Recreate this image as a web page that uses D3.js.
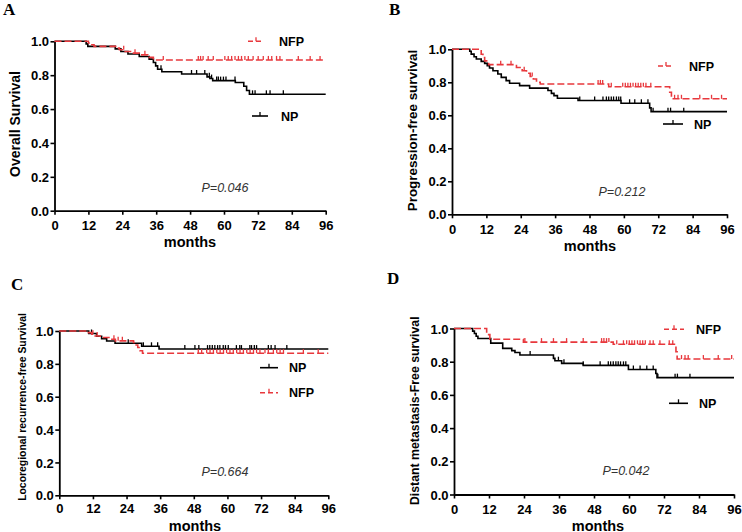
<!DOCTYPE html>
<html><head><meta charset="utf-8">
<script src="https://cdn.jsdelivr.net/npm/d3@7"></script>
<style>body{margin:0;background:#fff}svg{display:block}</style>
</head><body>
<script>
// ---------- DATA ----------
const xTicks = [0, 12, 24, 36, 48, 60, 72, 84, 96];
const yTicks = [0, 0.2, 0.4, 0.6, 0.8, 1.0];
const seriesNames = ["NP", "NFP"];

// Panel A - Overall Survival
const aNpTime = [0, 11.2, 11.8, 21.5, 23.5, 26, 30, 33.5, 35, 35.8, 36.5, 38, 45, 54, 55, 56, 64, 67, 68, 69];
const aNpSurv = [1, 0.985, 0.97, 0.955, 0.94, 0.925, 0.91, 0.895, 0.875, 0.855, 0.835, 0.82, 0.807, 0.79, 0.78, 0.768, 0.757, 0.735, 0.71, 0.687];
const aNpCens = [37.7, 48.5, 50.3, 53.2, 54.8, 55.6, 57.4, 58, 58.8, 59.8, 60.7, 63.9, 70.1, 71, 75, 76.3, 81];
const aNfpTime = [0, 12, 12.8, 14, 22, 23, 25, 27.5, 30, 33, 35];
const aNfpSurv = [1, 0.99, 0.98, 0.97, 0.96, 0.95, 0.94, 0.93, 0.92, 0.905, 0.89];
const aNfpCens = [24.5, 28.5, 32, 38.5, 50.9, 51.7, 52.6, 54.4, 56.2, 60.3, 61.5, 62.7, 63.9, 65.1, 66.2, 67.4, 68.6, 70.3, 72.1, 73.9, 75.7, 76.9, 78.6, 79.8, 86.3, 90.5, 94];

// Panel B - Progression-free survival
const bNpTime = [0, 6.2, 6.7, 7.7, 8.5, 10.2, 11.4, 12.3, 13.1, 14.3, 16, 17.2, 18.9, 20.1, 23.6, 27.1, 33.5, 34.7, 35.6, 36.8, 44, 59, 69, 69.5];
const bNpSurv = [1, 0.988, 0.971, 0.955, 0.941, 0.927, 0.915, 0.9, 0.887, 0.87, 0.85, 0.83, 0.81, 0.794, 0.78, 0.765, 0.75, 0.733, 0.719, 0.703, 0.69, 0.673, 0.645, 0.622];
const bNpCens = [44.6, 49.8, 52.7, 53.9, 54.7, 55.6, 56.4, 57.4, 58.2, 58.9, 62, 63.8, 66.1, 68.4, 70.2, 75.4, 76.3, 80.9];
const bNfpTime = [0, 10.2, 10.8, 11.4, 12.8, 22.5, 24.5, 26, 27.3, 28.4, 29.5, 30.8, 54.7, 76, 76.6];
const bNfpSurv = [1, 0.97, 0.95, 0.93, 0.907, 0.89, 0.87, 0.855, 0.835, 0.82, 0.80, 0.79, 0.773, 0.74, 0.70];
const bNfpCens = [17, 20.6, 25.2, 28, 51, 51.8, 52.6, 55.6, 59.6, 60.5, 61.4, 62.3, 63.2, 64.1, 65, 65.9, 66.8, 67.7, 69.4, 77.7, 78.9, 80.1, 86.5, 90.6, 94.1];

// Panel C - Locoregional recurrence-free Survival
const cNpTime = [0, 10.5, 13.3, 15.1, 16.9, 19.9, 29.4, 35.6];
const cNpSurv = [1, 0.985, 0.968, 0.953, 0.939, 0.925, 0.907, 0.89];
const cNpCens = [11.5, 24.6, 30, 32.9, 35.1, 44.8, 48.4, 49.8, 52.9, 53.7, 54.6, 55.5, 56.5, 57.3, 58.5, 59.3, 60.3, 63.2, 64.4, 65, 68, 68.6, 69.6, 70.4, 74.6, 75.6, 77, 81.2];
const cNfpTime = [0, 10.4, 11.6, 12.8, 14.6, 18, 20, 26.5, 27.1, 28, 28.8, 29.7];
const cNfpSurv = [1, 0.99, 0.98, 0.97, 0.96, 0.95, 0.94, 0.93, 0.915, 0.9, 0.88, 0.865];
const cNfpCens = [12, 13.5, 19.5, 21, 22.5, 49.6, 50.8, 52.6, 53.8, 55, 56.2, 57.4, 58.6, 59.7, 60.9, 62.1, 63.3, 64.5, 65.7, 66.9, 68.1, 69.3, 70.4, 71.6, 73.4, 74.6, 76.4, 77.6, 78.8, 80, 87.1, 92.4];

// Panel D - Distant metastasis-Free survival
const dNpTime = [0, 6.4, 7.0, 7.6, 8.2, 12.6, 16.7, 19.8, 20.9, 22.6, 34.1, 34.6, 36.9, 44.3, 59.8, 69.2, 69.6];
const dNpSurv = [1, 0.984, 0.97, 0.953, 0.94, 0.912, 0.88, 0.867, 0.855, 0.84, 0.82, 0.806, 0.79, 0.778, 0.753, 0.729, 0.704];
const dNpCens = [26.1, 35.8, 37.7, 44.3, 50.1, 52.9, 53.7, 54.6, 55.5, 56.3, 57.1, 58.1, 58.9, 61.5, 63.8, 66.1, 68.3, 69.9, 75.8, 76.6, 80.9];
const dNfpTime = [0, 11.2, 12.3, 23.8, 54.6, 76.1, 76.5];
const dNfpSurv = [1, 0.963, 0.935, 0.918, 0.905, 0.86, 0.816];
const dNfpCens = [24.3, 30, 34.1, 38.6, 44.3, 50.6, 51.4, 52.3, 53.1, 55.8, 58.1, 59.2, 60.1, 61, 61.9, 62.9, 63.8, 64.7, 65.6, 67.2, 68.3, 70.6, 73.8, 75, 78, 79.2, 80.3, 85.5, 90.6, 95.2];

const panelLetters = ["A", "B", "C", "D"];
const yTitles = ["Overall Survival", "Progression-free survival", "Locoregional recurrence-free Survival", "Distant metastasis-Free survival"];
const pValues = ["P=0.046", "P=0.212", "P=0.664", "P=0.042"];
const xTitle = "months";

// ---------- LAYOUT ----------
const RED = "#e8383d";
const panels = [
  { x0: 54.5, x1: 325.7, yT: 41.3, yB: 210.7, letter: [3, 15], ytl: [15, 124], ytSize: 14, p: [225, 192], xt: [190, 247], xtlY: 230,
    np: [aNpTime, aNpSurv, aNpCens], nfp: [aNfpTime, aNfpSurv, aNfpCens],
    legNFP: [248, 264, 41.3, 279, 45.5], legNP: [252, 268, 116, 281, 120.5] },
  { x0: 452, x1: 727, yT: 49.3, yB: 214.3, letter: [389, 15], ytl: [412, 130.5], ytSize: 13.4, p: [622, 196], xt: [590, 251], xtlY: 234,
    np: [bNpTime, bNpSurv, bNpCens], nfp: [bNfpTime, bNfpSurv, bNfpCens],
    legNFP: [658, 674, 66, 689, 70.5], legNP: [663, 683, 124, 694, 128.5] },
  { x0: 59.3, x1: 328.3, yT: 331, yB: 495.3, letter: [11, 290], ytl: [22.5, 407], ytSize: 10.4, p: [225, 476], xt: [195, 530.5], xtlY: 513.5,
    np: [cNpTime, cNpSurv, cNpCens], nfp: [cNfpTime, cNfpSurv, cNfpCens],
    legNFP: [260, 278, 392.7, 289, 397], legNP: [260, 278, 367.7, 289, 372] },
  { x0: 454, x1: 734, yT: 328.5, yB: 494.5, letter: [387, 284], ytl: [415, 410.7], ytSize: 12.3, p: [626, 475], xt: [598, 530.5], xtlY: 513.5,
    np: [dNpTime, dNpSurv, dNpCens], nfp: [dNfpTime, dNfpSurv, dNfpCens],
    legNFP: [664, 684, 329.3, 696, 333.5], legNP: [669, 688, 403.3, 699, 407.5] }
];

const FONT = "'Liberation Sans', Arial, sans-serif";
const svg = d3.select("body").append("svg").attr("width", 742).attr("height", 532)
  .style("font-family", FONT);
svg.append("rect").attr("width", 742).attr("height", 532).attr("fill", "#fff");

function survAt(times, surv, t) {
  let s = surv[0];
  for (let i = 0; i < times.length; i++) if (times[i] <= t) s = surv[i];
  return s;
}

panels.forEach((P, idx) => {
  const g = svg.append("g");
  const x = d3.scaleLinear().domain([0, 96]).range([P.x0, P.x1]);
  const y = d3.scaleLinear().domain([0, 1]).range([P.yB, P.yT]);

  // panel letter
  g.append("text").attr("x", P.letter[0]).attr("y", P.letter[1])
    .attr("font-family", "'Liberation Serif', 'Times New Roman', serif")
    .attr("font-weight", "bold").attr("font-size", 17).text(panelLetters[idx]);

  // axes
  const xAxis = d3.axisBottom(x).tickValues(xTicks).tickFormat(d3.format("d")).tickSize(4).tickSizeOuter(0).tickPadding(2);
  const yAxis = d3.axisLeft(y).tickValues(yTicks).tickFormat(d3.format(".1f")).tickSize(4).tickSizeOuter(0).tickPadding(1.5);
  const gx = g.append("g").attr("transform", `translate(0,${P.yB})`).call(xAxis);
  const gy = g.append("g").attr("transform", `translate(${P.x0},0)`).call(yAxis);
  [gx, gy].forEach(a => {
    a.select(".domain").attr("stroke", "#000").attr("stroke-width", 1.8);
    a.selectAll(".tick line").attr("stroke", "#000").attr("stroke-width", 1.6);
    a.selectAll(".tick text").attr("fill", "#000").attr("font-size", 13).attr("font-weight", "bold")
      .attr("font-family", FONT);
  });
  gx.selectAll(".tick text").attr("dy", null).attr("y", P.xtlY - P.yB);
  gy.selectAll(".tick text").attr("dy", "0.36em");

  // axis titles
  g.append("text").attr("x", P.xt[0]).attr("y", P.xt[1]).attr("text-anchor", "middle")
    .attr("font-weight", "bold").attr("font-size", 14.5).text(xTitle);
  g.append("text").attr("transform", `translate(${P.ytl[0]},${P.ytl[1]}) rotate(-90)`)
    .attr("text-anchor", "middle").attr("dominant-baseline", "central")
    .attr("font-weight", "bold").attr("font-size", P.ytSize).text(yTitles[idx]);

  // p value
  g.append("text").attr("x", P.p[0]).attr("y", P.p[1]).attr("text-anchor", "middle")
    .attr("font-style", "italic").attr("font-size", 12.5).attr("fill", "#333").text(pValues[idx]);

  const line = d3.line().x(d => x(d[0])).y(d => y(d[1])).curve(d3.curveStepAfter);

  function drawSeries(data, color, dash) {
    const [times, surv, cens] = data;
    const pts = times.map((t, i) => [t, surv[i]]);
    pts.push([96, surv[surv.length - 1]]);
    g.append("path").datum(pts).attr("d", line).attr("fill", "none")
      .attr("stroke", color).attr("stroke-width", 1.6).attr("stroke-dasharray", dash);
    g.selectAll(null).data(cens).enter().append("line")
      .attr("x1", d => x(d)).attr("x2", d => x(d))
      .attr("y1", d => y(survAt(times, surv, d))).attr("y2", d => y(survAt(times, surv, d)) - 4)
      .attr("stroke", color).attr("stroke-width", 1.3);
  }
  drawSeries(P.np, "#000", null);
  drawSeries(P.nfp, RED, "7,3");

  // legend
  function legend(L, color, dash, name) {
    g.append("line").attr("x1", L[0]).attr("x2", L[1]).attr("y1", L[2]).attr("y2", L[2])
      .attr("stroke", color).attr("stroke-width", 1.6).attr("stroke-dasharray", dash);
    const mx = (L[0] + L[1]) / 2;
    g.append("line").attr("x1", mx).attr("x2", mx).attr("y1", L[2]).attr("y2", L[2] - 4)
      .attr("stroke", color).attr("stroke-width", 1.3);
    g.append("text").attr("x", L[3]).attr("y", L[4]).attr("font-weight", "bold")
      .attr("font-size", 12.5).attr("fill", "#000").text(name);
  }
  legend(P.legNP, "#000", null, seriesNames[0]);
  legend(P.legNFP, RED, "5,3", seriesNames[1]);
});
</script>
</body></html>
